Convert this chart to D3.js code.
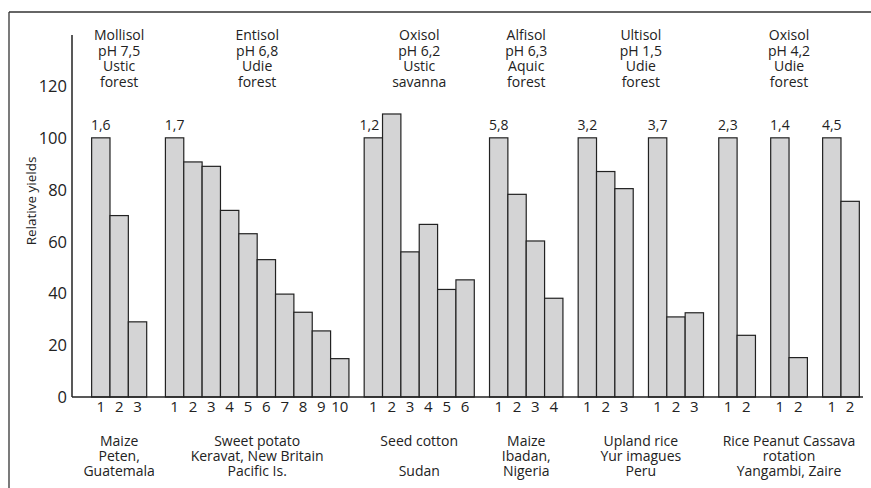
<!DOCTYPE html>
<html lang="en">
<head>
  <meta charset="UTF-8" />
  <title>Relative yields by soil</title>
  <script src="https://d3js.org/d3.v7.min.js"></script>
  <style>
    body {
      margin: 0;
      padding: 0;
      background: #fff;
      font-family: "Open Sans", sans-serif;
      overflow: hidden;
    }
  </style>
</head>
<body>
  <div id="viz"></div>
  <script>
    // relative yields per experiment group (bar 1 = 100)
    const yields = [
      [100, 70, 29],
      [100, 90.7, 89, 72, 63, 53, 39.7, 32.7, 25.5, 14.8],
      [100, 109.2, 56, 66.6, 41.5, 45.2],
      [100, 78.2, 60.2, 38.1],
      [100, 87, 80.4],
      [100, 30.9, 32.5],
      [100, 23.8],
      [100, 15.2],
      [100, 75.5]
    ];
    // number printed above bar 1 of each group
    const firstLabels = ["1,6", "1,7", "1,2", "5,8", "3,2", "3,7", "2,3", "1,4", "4,5"];

    const soilLines = [
      ["Mollisol", "pH 7,5", "Ustic", "forest"],
      ["Entisol", "pH 6,8", "Udie", "forest"],
      ["Oxisol", "pH 6,2", "Ustic", "savanna"],
      ["Alfisol", "pH 6,3", "Aquic", "forest"],
      ["Ultisol", "pH 1,5", "Udie", "forest"],
      ["Oxisol", "pH 4,2", "Udie", "forest"]
    ];
    const soilSpans = [[0, 0], [1, 1], [2, 2], [3, 3], [4, 5], [6, 8]];

    const cropLines = [
      ["Maize", "Peten,", "Guatemala"],
      ["Sweet potato", "Keravat, New Britain", "Pacific Is."],
      ["Seed cotton", "", "Sudan"],
      ["Maize", "Ibadan,", "Nigeria"],
      ["Upland rice", "Yur imagues", "Peru"],
      ["Rice Peanut Cassava", "rotation", "Yangambi, Zaire"]
    ];
    const cropSpans = soilSpans;

    const yTicks = [0, 20, 40, 60, 80, 100, 120];

    const width = 871, height = 488;
    const axisX = 72, baseY = 397;
    const ink = "#222";

    const svg = d3.select("#viz").append("svg")
      .attr("width", width)
      .attr("height", height);

    // frame: top and left rules only
    svg.append("line").attr("x1", 9).attr("x2", width).attr("y1", 12).attr("y2", 12)
      .attr("stroke", "#333").attr("stroke-width", 1.3);
    svg.append("line").attr("x1", 9).attr("x2", 9).attr("y1", 12).attr("y2", height)
      .attr("stroke", "#333").attr("stroke-width", 1.3);

    // layout in bar units
    const leadGap = 1.07, firstGap = 1.02, groupGap = 0.83, tailGap = 0.2;
    const starts = [];
    let u = leadGap;
    yields.forEach((g, i) => {
      if (i === 1) u += firstGap - groupGap;
      starts.push(u);
      u += g.length + groupGap;
    });
    const totalUnits = u - groupGap + tailGap;

    const x = d3.scaleLinear().domain([0, totalUnits]).range([axisX, 863]);
    const y = d3.scaleLinear().domain([0, 120]).range([baseY, 86]);
    const bw = x(1) - x(0);

    const bars = [];
    yields.forEach((g, gi) => g.forEach((v, bi) => bars.push({ gi, bi, v, u: starts[gi] + bi })));

    svg.append("g").selectAll("rect")
      .data(bars)
      .join("rect")
      .attr("x", d => x(d.u))
      .attr("y", d => y(d.v))
      .attr("width", bw)
      .attr("height", d => baseY - y(d.v))
      .attr("fill", "#d4d4d5")
      .attr("stroke", ink)
      .attr("stroke-width", 1.2);

    // axes
    svg.append("line").attr("x1", axisX).attr("x2", axisX).attr("y1", 35).attr("y2", baseY)
      .attr("stroke", ink).attr("stroke-width", 1.5);
    svg.append("line").attr("x1", axisX).attr("x2", 863).attr("y1", baseY).attr("y2", baseY)
      .attr("stroke", ink).attr("stroke-width", 1.5);

    svg.append("g").selectAll("text")
      .data(yTicks)
      .join("text")
      .attr("x", 67)
      .attr("y", d => y(d) + 6)
      .attr("text-anchor", "end")
      .attr("fill", ink)
      .style("font-size", "16.5px")
      .text(d => d);

    svg.append("text")
      .attr("transform", "translate(36,201) rotate(-90)")
      .attr("text-anchor", "middle")
      .attr("fill", ink)
      .style("font-size", "13.5px")
      .text("Relative yields");

    // bar numbers
    svg.append("g").selectAll("text")
      .data(bars)
      .join("text")
      .attr("x", d => x(d.u + 0.5))
      .attr("y", 412)
      .attr("text-anchor", "middle")
      .attr("fill", ink)
      .style("font-size", "15px")
      .text(d => d.bi + 1);

    // label above bar 1
    svg.append("g").selectAll("text")
      .data(firstLabels)
      .join("text")
      .attr("x", (d, i) => x(starts[i] + 0.5) - (yields[i][1] > 100 ? 4 : 0))
      .attr("y", 130)
      .attr("text-anchor", "middle")
      .attr("fill", ink)
      .style("font-size", "14px")
      .text(d => d);

    function spanCenter(s) {
      const a = starts[s[0]];
      const b = starts[s[1]] + yields[s[1]].length;
      return x((a + b) / 2);
    }

    // one text per block, lines as tspans
    function block(lines, spans, y0, lh) {
      const t = svg.append("g").selectAll("text")
        .data(lines)
        .join("text")
        .attr("y", y0)
        .attr("text-anchor", "middle")
        .attr("fill", ink)
        .style("font-size", "14px");
      t.each(function(ls, i) {
        const cx = spanCenter(spans[i]);
        d3.select(this).selectAll("tspan")
          .data(ls)
          .join("tspan")
          .attr("x", cx)
          .attr("y", (d, j) => y0 + j * lh)
          .text(d => d);
      });
    }

    block(soilLines, soilSpans, 40, 15.6);
    block(cropLines, cropSpans, 446, 15);
  </script>
</body>
</html>
